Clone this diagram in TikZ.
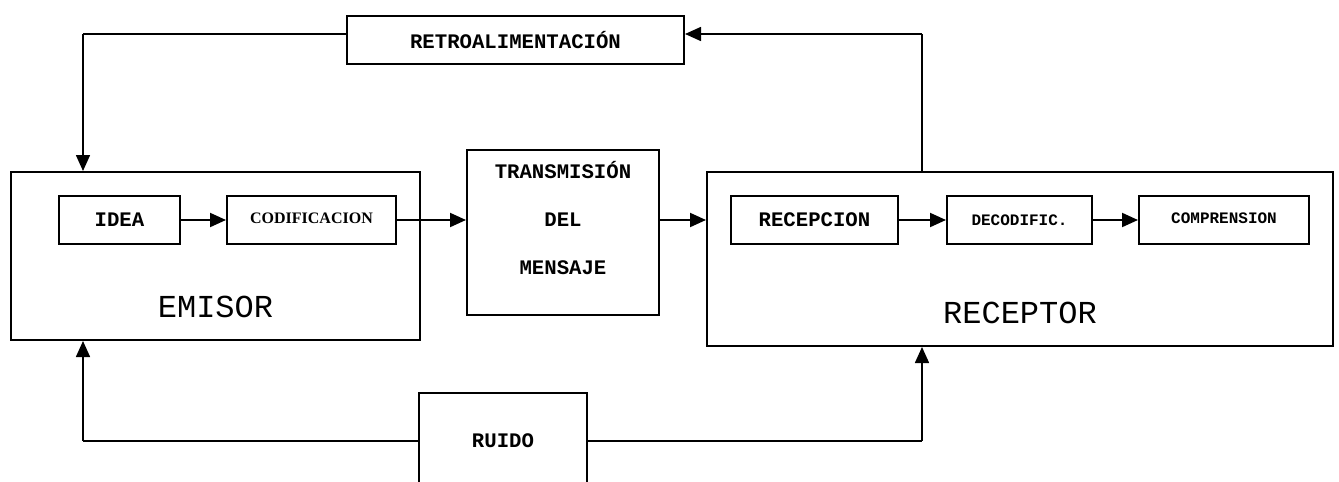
\documentclass[tikz,border=0pt]{standalone}
\usepackage{fontspec}
\setmonofont{Liberation Mono}
\newfontfamily\serifbold{Liberation Serif}
\usetikzlibrary{arrows.meta}

\begin{document}
\begin{tikzpicture}[x=0.75pt,y=0.75pt,yscale=-1,xscale=1,
	caja/.style={draw,line width=1.5pt,inner sep=0pt},
	flecha/.style={line width=1.5pt,-{Triangle[length=12pt,width=10.5pt]}},
	linea/.style={line width=1.2pt},
	monobf/.style={font=\fontsize{15.5}{18}\selectfont\ttfamily\bfseries},
	monochica/.style={font=\fontsize{12}{14}\selectfont\ttfamily\bfseries},
	monogrande/.style={font=\fontsize{24}{28}\selectfont\ttfamily}]
	\useasboundingbox (0,0) rectangle (1339,482);
	\clip (0,0) rectangle (1339,482);

	%Emisor
	\node [caja,minimum width=306.75pt,minimum height=126pt] (emisor) at (215.5,256) {};
	\node [monogrande] (emisortxt) at (215.5,307) {EMISOR};
	\node [caja,monobf,minimum width=90.75pt,minimum height=36pt] (idea) at (119.5,220) {IDEA};
	\node [caja,font=\fontsize{12}{14}\serifbold\bfseries,minimum width=126.75pt,minimum height=36pt] (codif) at (311.5,220) {\raisebox{2pt}{CODIFICACION}};

	%Mensaje
	\node [caja,minimum width=144pt,minimum height=123.75pt] (trans) at (563,232.5) {};
	\node [monobf,font=\fontsize{15.5}{36}\selectfont\ttfamily\bfseries,align=center] (transtxt) at (563,218) {TRANSMISIÓN\\DEL\\MENSAJE};

	%Receptor
	\node [caja,minimum width=469.5pt,minimum height=130.5pt] (receptor) at (1020,259) {};
	\node [monogrande] (receptortxt) at (1020,313) {RECEPTOR};
	\node [caja,monobf,minimum width=125.25pt,minimum height=36pt] (recep) at (814.5,220) {RECEPCION};
	\node [caja,monochica,minimum width=108.75pt,minimum height=36pt] (decod) at (1019.5,220) {DECODIFIC.};
	\node [caja,monochica,minimum width=127.5pt,minimum height=36pt] (compr) at (1224,220) {\raisebox{3pt}{COMPRENSION}};

	%Retroalimentacion y ruido
	\node [caja,monobf,minimum width=252.75pt,minimum height=36pt] (retro) at (515.5,40) {\raisebox{-3pt}{RETROALIMENTACIÓN}};
	\node [caja,monobf,minimum width=126pt,minimum height=72pt] (ruido) at (503,441) {RUIDO};

	\coordinate (fbder) at (922,34);
	\coordinate (fbizq) at (83,34);
	\coordinate (ruizq) at (83,441);
	\coordinate (ruder) at (922,441);

	%Straight Lines
	\draw [flecha] (idea) -- (codif);
	\draw [flecha] (codif.east) -- (codif.east -| trans.west);
	\draw [flecha] (trans.east |- recep) -- (receptor.west |- recep);
	\draw [flecha] (recep) -- (decod);
	\draw [flecha] (decod) -- (compr);

	\draw [linea] (receptor.north -| fbder) -- (fbder);
	\draw [flecha,line width=1.2pt] (fbder) -- (retro.east |- fbder);
	\draw [linea] (retro.west |- fbizq) -- (fbizq);
	\draw [flecha,line width=1.2pt] (fbizq) -- (fbizq |- emisor.north);

	\draw [linea] (ruido.west) -- (ruizq);
	\draw [flecha,line width=1.2pt] (ruizq) -- (ruizq |- emisor.south);
	\draw [linea] (ruido.east) -- (ruder);
	\draw [flecha,line width=1.2pt] (ruder) -- (ruder |- receptor.south);
\end{tikzpicture}
\end{document}
